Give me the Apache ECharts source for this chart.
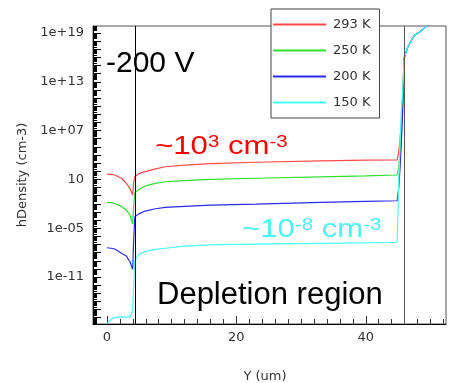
<!DOCTYPE html>
<html>
<head>
<meta charset="utf-8">
<script src="https://cdn.jsdelivr.net/npm/echarts@6/dist/echarts.min.js"></script>
<style>
  html, body { margin: 0; padding: 0; background: #fff; }
  #chart { width: 449px; height: 383px; }
</style>
</head>
<body>
<div id="chart"></div>
<script>
// Depth positions along the device (um)
const depth = [0, 0.6, 1.2, 2.3, 3.0, 3.55, 3.97, 4.1, 4.3, 5.0, 5.9, 7.5, 9.0, 12, 16, 23, 33, 40,
               44.85, 45.1, 45.3, 45.5, 45.75, 45.92, 46.5, 47.5, 48.5, 49.5, 50];

const temperatures = ['293 K', '250 K', '200 K', '150 K'];

// Hole density (cm^-3) at each depth, one array per temperature
const hDensity293K = [4.6e1, 4.2e1, 3.5e1, 1.3e1, 3.3, 7.9e-1, 1.2e-1, 3.2, 2.1e1, 5.6e1, 8.9e1, 2.0e2, 3.6e2, 5.6e2, 8.9e2, 1.3e3, 1.9e3, 2.3e3,
                      2.6e3, 2.5e4, 1e6, 1e8, 1.6e12, 7.9e15, 2.0e17, 5.0e18, 1.6e19, 7.9e19, 1.6e20];
const hDensity250K = [1.5e-2, 1.4e-2, 1.1e-2, 4.5e-3, 1.7e-3, 4.2e-4, 3.3e-5, 3.2e-3, 2.5e-1, 6.3e-1, 1.6, 3.2, 5.2, 7.1, 1.0e1, 1.4e1, 2.1e1, 2.8e1,
                      3.5e1, 3.2e2, 1.6e4, 1e7, 6.3e11, 7.9e15, 2.0e17, 5.0e18, 1.6e19, 7.9e19, 1.6e20];
const hDensity200K = [4.0e-8, 3.5e-8, 2.8e-8, 8.1e-9, 3.8e-9, 7.6e-10, 8.7e-11, 1e-7, 2.5e-4, 6.3e-4, 1.3e-3, 2.5e-3, 3.7e-3, 5.0e-3, 7.1e-3, 9.3e-3, 1.5e-2, 2.0e-2,
                      2.4e-2, 1, 3.2e2, 3.2e5, 1.6e10, 7.9e15, 2.0e17, 5.0e18, 1.6e19, 7.9e19, 1.6e20];
const hDensity150K = [2.0e-17, 6.3e-17, 1.1e-16, 1.3e-16, 1.2e-16, 1.1e-16, 8.7e-16, 2.5e-13, 1.3e-9, 6.3e-9, 1.4e-8, 2.5e-8, 3.5e-8, 6.3e-8, 8.9e-8, 1.1e-7, 1.4e-7, 1.6e-7,
                      1.9e-7, 7.9, 3.2e5, 3.2e9, 2.5e12, 7.9e15, 2.0e17, 5.0e18, 1.6e19, 7.9e19, 1.6e20];

// Edges of the depletion region (um)
const junctionEdges = [4.33, 46.0];

// Axis ranges and labelled ticks
const xRange = [-2.16, 52.4];
const yRange = [1.7e-17, 7.2e19];
const xLabelValues = [0, 20, 40];
const yLabelValues = [1e-11, 1e-5, 10, 1e7, 1e13, 1e19];

const seriesData = [hDensity293K, hDensity250K, hDensity200K, hDensity150K];
const seriesColors = ['#ff4a4a', '#2fe02f', '#2a2aee', '#48ffff'];

// tick positions: every decade (major) and 2..9 x decade (minor) on the log axis
const decadeTicks = [];
const minorTicks = [];
for (let n = -17; n <= 20; n++) {
  const d = Math.pow(10, n);
  if (d >= yRange[0] && d <= yRange[1]) decadeTicks.push(d);
  for (let k = 2; k <= 9; k++) {
    const v = k * d;
    if (v >= yRange[0] && v <= yRange[1]) minorTicks.push(v);
  }
}
const xMinorTicks = [];
for (let x = 0; x <= 52; x += 2) xMinorTicks.push(x);

function expLabel(v) {
  const e = Math.round(Math.log10(v));
  if (e === 1) return '10';
  const a = Math.abs(e);
  return '1e' + (e < 0 ? '-' : '+') + (a < 10 ? '0' + a : '' + a);
}

const tickFont = { fontFamily: 'DejaVu Sans', fontSize: 13, color: '#333' };

const chart = echarts.init(document.getElementById('chart'), null, { renderer: 'canvas' });

const series = temperatures.map((name, i) => ({
  name: name,
  type: 'line',
  data: depth.map((x, j) => [x, seriesData[i][j]]),
  showSymbol: false,
  symbol: 'none',
  clip: true,
  color: seriesColors[i],
  lineStyle: { color: seriesColors[i], width: 1.2 },
  emphasis: { disabled: true },
  animation: false
}));

series[0].markLine = {
  silent: true,
  symbol: 'none',
  animation: false,
  label: { show: false },
  emphasis: { disabled: true },
  data: [
    { xAxis: junctionEdges[0], lineStyle: { color: '#000', width: 1, type: 'solid' } },
    { xAxis: junctionEdges[1], lineStyle: { color: '#555', width: 1, type: 'solid' } }
  ]
};

const option = {
  animation: false,
  backgroundColor: '#fff',
  grid: {
    left: 93, right: 3, top: 26, bottom: 59,
    outerBoundsMode: 'none', containLabel: false,
    show: true, borderColor: '#555', borderWidth: 1, backgroundColor: 'transparent'
  },
  legend: {
    data: temperatures,
    orient: 'vertical',
    left: 271,
    top: 9,
    icon: 'rect',
    itemWidth: 53,
    itemHeight: 2,
    itemGap: 13,
    padding: [9, 9, 9, 2],
    backgroundColor: '#fff',
    borderColor: '#444',
    borderWidth: 1,
    selectedMode: false,
    textStyle: { fontFamily: 'DejaVu Sans', fontSize: 13, color: '#333', padding: [0, 0, 0, 2] }
  },
  xAxis: [
    {
      type: 'value',
      min: xRange[0],
      max: xRange[1],
      name: 'Y (um)',
      nameLocation: 'middle',
      nameGap: 46,
      nameTextStyle: { fontFamily: 'DejaVu Sans', fontSize: 13, color: '#333', padding: [0, 9, 0, 0] },
      axisLine: { show: true, onZero: false, lineStyle: { color: '#000', width: 1 } },
      axisTick: { show: true, inside: true, length: 8, customValues: xLabelValues, lineStyle: { color: '#333' } },
      axisLabel: Object.assign({ customValues: xLabelValues, margin: 7 }, tickFont),
      splitLine: { show: false }
    },
    {
      type: 'value',
      min: xRange[0],
      max: xRange[1],
      position: 'bottom',
      axisLine: { show: false, onZero: false },
      axisTick: { show: true, inside: true, length: 5, customValues: xMinorTicks, lineStyle: { color: '#333' } },
      axisLabel: { show: false },
      splitLine: { show: false }
    }
  ],
  yAxis: [
    {
      type: 'log',
      logBase: 10,
      min: yRange[0],
      max: yRange[1],
      name: 'hDensity (cm-3)',
      nameLocation: 'middle',
      nameGap: 62,
      nameTextStyle: { fontFamily: 'DejaVu Sans', fontSize: 13, color: '#333' },
      axisLine: { show: true, onZero: false, lineStyle: { color: '#000', width: 1 } },
      axisTick: { show: true, inside: true, length: 8, customValues: decadeTicks, lineStyle: { color: '#000' } },
      axisLabel: Object.assign({ customValues: yLabelValues, margin: 9, formatter: expLabel }, tickFont),
      splitLine: { show: false }
    },
    {
      type: 'log',
      logBase: 10,
      min: yRange[0],
      max: yRange[1],
      position: 'left',
      axisLine: { show: false, onZero: false },
      axisTick: { show: true, inside: true, length: 4, customValues: minorTicks, lineStyle: { color: '#000', width: 1 } },
      axisLabel: { show: false },
      splitLine: { show: false }
    }
  ],
  series: series,
  graphic: [
    {
      type: 'text', left: 106, top: 49, z: 10,
      style: { text: '-200 V', fontFamily: 'Liberation Sans', fontSize: 30, fill: '#000' }
    },
    {
      type: 'text', x: 155, y: 134, z: 10, scaleX: 1.2,
      style: {
        text: '{b|~10}{s|3}{b| cm}{s|-3}',
        rich: {
          b: { fontFamily: 'Liberation Sans', fontSize: 26, fill: '#ff0000', verticalAlign: 'bottom' },
          s: { fontFamily: 'Liberation Sans', fontSize: 17, fill: '#ff0000', verticalAlign: 'top' }
        }
      }
    },
    {
      type: 'text', x: 242, y: 217, z: 10, scaleX: 1.2,
      style: {
        text: '{b|~10}{s|-8}{b| cm}{s|-3}',
        rich: {
          b: { fontFamily: 'Liberation Sans', fontSize: 26, fill: '#4ef2f2', verticalAlign: 'bottom' },
          s: { fontFamily: 'Liberation Sans', fontSize: 17, fill: '#4ef2f2', verticalAlign: 'top' }
        }
      }
    },
    {
      type: 'text', left: 157, top: 280, z: 10,
      style: { text: 'Depletion region', fontFamily: 'Liberation Sans', fontSize: 31, fill: '#000' }
    }
  ]
};

chart.setOption(option);
</script>
</body>
</html>
